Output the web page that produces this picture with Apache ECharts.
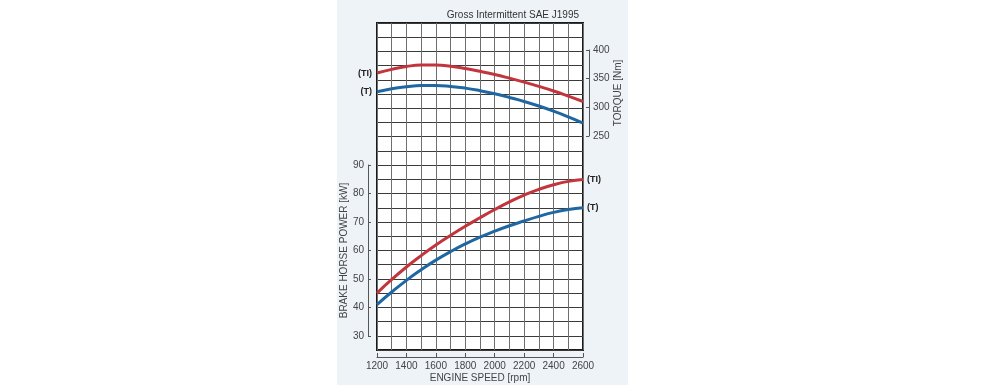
<!DOCTYPE html>
<html>
<head>
<meta charset="utf-8">
<script src="https://cdn.jsdelivr.net/npm/echarts@6/dist/echarts.min.js"></script>
<style>
html,body{margin:0;padding:0;background:#fff;}
#c{width:1000px;height:385px;}
</style>
</head>
<body>
<div id="c"></div>
<script>
const rpm = [1200,1300,1400,1500,1600,1700,1800,1900,2000,2100,2200,2300,2400,2500,2600];
const torqueTI = [362,368.5,373.5,376,376,374,370,365,359.5,353,346,338.5,330.5,321.5,312];
const torqueT  = [329,334.5,338,340,340,338.5,335.5,331,325.5,319,312,304,295,285,274];
const powerTI  = [45,49.8,54.2,58.2,61.9,65.3,68.5,71.5,74.4,77.1,79.5,81.5,83.1,84.3,85];
const powerT   = [41,45.4,49.5,53.2,56.6,59.6,62.3,64.7,66.8,68.7,70.4,72.0,73.4,74.4,75];
const labelTI = '(TI)';
const labelT = '(T)';
const titleText = 'Gross Intermittent SAE J1995';
const xName = 'ENGINE SPEED [rpm]';
const powerName = 'BRAKE HORSE POWER [kW]';
const torqueName = 'TORQUE [Nm]';

const RED = '#c2353d';
const BLUE = '#1f67a3';
const FONT = 'Liberation Sans, Arial, sans-serif';
const curveLabel = {fontFamily: FONT, fontSize: 9, fontWeight: 'bold', color: '#222'};

function pts(vals) {
  return vals.map((v, i) => [rpm[i], v]);
}
function startMark(vals, text) {
  return {
    symbol: 'circle', symbolSize: 0, silent: true,
    data: [{coord: [rpm[0], vals[0]],
      label: Object.assign({show: true, position: 'left', distance: 5, formatter: text}, curveLabel)}]
  };
}

const chart = echarts.init(document.getElementById('c'), null, {renderer: 'canvas'});
chart.setOption({
  backgroundColor: '#ffffff',
  animation: false,
  graphic: [{
    type: 'rect', z: -10, silent: true,
    shape: {x: 337, y: 0, width: 291, height: 385},
    style: {fill: '#eef3f8'}
  }],
  title: {
    text: titleText, right: 416, top: 5,
    textStyle: {fontFamily: FONT, fontSize: 10, fontWeight: 'normal', color: '#333'}
  },
  grid: [
    {left: 377, top: 23, width: 206, height: 327, show: true, backgroundColor: '#ffffff', borderColor: '#1a1a1a', borderWidth: 2, outerBoundsMode: 'none', containLabel: false},
    {left: 368, top: 165, width: 1, height: 171, outerBoundsMode: 'none', containLabel: false},
    {left: 589, top: 50, width: 1, height: 86, outerBoundsMode: 'none', containLabel: false}
  ],
  xAxis: [
    {gridIndex: 0, type: 'value', min: 1200, max: 2600, interval: 100,
      axisLine: {show: false}, axisTick: {show: false}, axisLabel: {show: false},
      splitLine: {show: true, lineStyle: {color: '#6e6e6e', width: 1}}},
    {gridIndex: 0, type: 'value', min: 1200, max: 2600, interval: 200, position: 'bottom', offset: 7,
      axisLine: {show: true, lineStyle: {color: '#555', width: 1}},
      axisTick: {show: true, inside: true, length: 4, lineStyle: {color: '#555'}},
      axisLabel: {show: true, margin: 4, fontFamily: FONT, fontSize: 10, color: '#444',
        formatter: v => String(v)},
      splitLine: {show: false},
      name: xName, nameLocation: 'middle', nameGap: 16, nameMoveOverlap: false,
      nameTextStyle: {fontFamily: FONT, fontSize: 10, color: '#444'}},
    {gridIndex: 1, type: 'value', show: false},
    {gridIndex: 2, type: 'value', show: false}
  ],
  yAxis: [
    {gridIndex: 0, type: 'value', min: 25, max: 140, interval: 5,
      axisLine: {show: false}, axisTick: {show: false}, axisLabel: {show: false},
      splitLine: {show: true, lineStyle: {color: '#3a3a3a', width: 1}}},
    {gridIndex: 0, type: 'value', min: -125, max: 450, interval: 25, position: 'right',
      axisLine: {show: false}, axisTick: {show: false}, axisLabel: {show: false}, splitLine: {show: false}},
    {gridIndex: 1, type: 'value', min: 30, max: 90, interval: 10, position: 'left',
      axisLine: {show: true, lineStyle: {color: '#555', width: 1}},
      axisTick: {show: true, inside: true, length: 3, lineStyle: {color: '#555'}},
      axisLabel: {show: true, margin: 4, fontFamily: FONT, fontSize: 10, color: '#444'},
      splitLine: {show: false},
      name: powerName, nameLocation: 'middle', nameGap: 9, nameRotate: 90,
      nameTextStyle: {fontFamily: FONT, fontSize: 10, color: '#444'}},
    {gridIndex: 2, type: 'value', min: 250, max: 400, interval: 50, position: 'right',
      axisLine: {show: true, lineStyle: {color: '#555', width: 1}},
      axisTick: {show: true, inside: true, length: 3, lineStyle: {color: '#555'}},
      axisLabel: {show: true, margin: 3, fontFamily: FONT, fontSize: 10, color: '#444'},
      splitLine: {show: false},
      name: torqueName, nameLocation: 'middle', nameGap: 22, nameRotate: 90,
      nameTextStyle: {fontFamily: FONT, fontSize: 10, color: '#444'}}
  ],
  series: [
    {type: 'line', xAxisIndex: 0, yAxisIndex: 1, data: pts(torqueTI), smooth: true,
      showSymbol: false, symbol: 'none', lineStyle: {color: RED, width: 3}, z: 5,
      markPoint: startMark(torqueTI, labelTI)},
    {type: 'line', xAxisIndex: 0, yAxisIndex: 1, data: pts(torqueT), smooth: true,
      showSymbol: false, symbol: 'none', lineStyle: {color: BLUE, width: 3}, z: 5,
      markPoint: startMark(torqueT, labelT)},
    {type: 'line', xAxisIndex: 0, yAxisIndex: 0, data: pts(powerTI), smooth: true,
      showSymbol: false, symbol: 'none', lineStyle: {color: RED, width: 3}, z: 5,
      endLabel: Object.assign({show: true, formatter: labelTI, distance: 4}, curveLabel)},
    {type: 'line', xAxisIndex: 0, yAxisIndex: 0, data: pts(powerT), smooth: true,
      showSymbol: false, symbol: 'none', lineStyle: {color: BLUE, width: 3}, z: 5,
      endLabel: Object.assign({show: true, formatter: labelT, distance: 4}, curveLabel)}
  ]
});
</script>
</body>
</html>
